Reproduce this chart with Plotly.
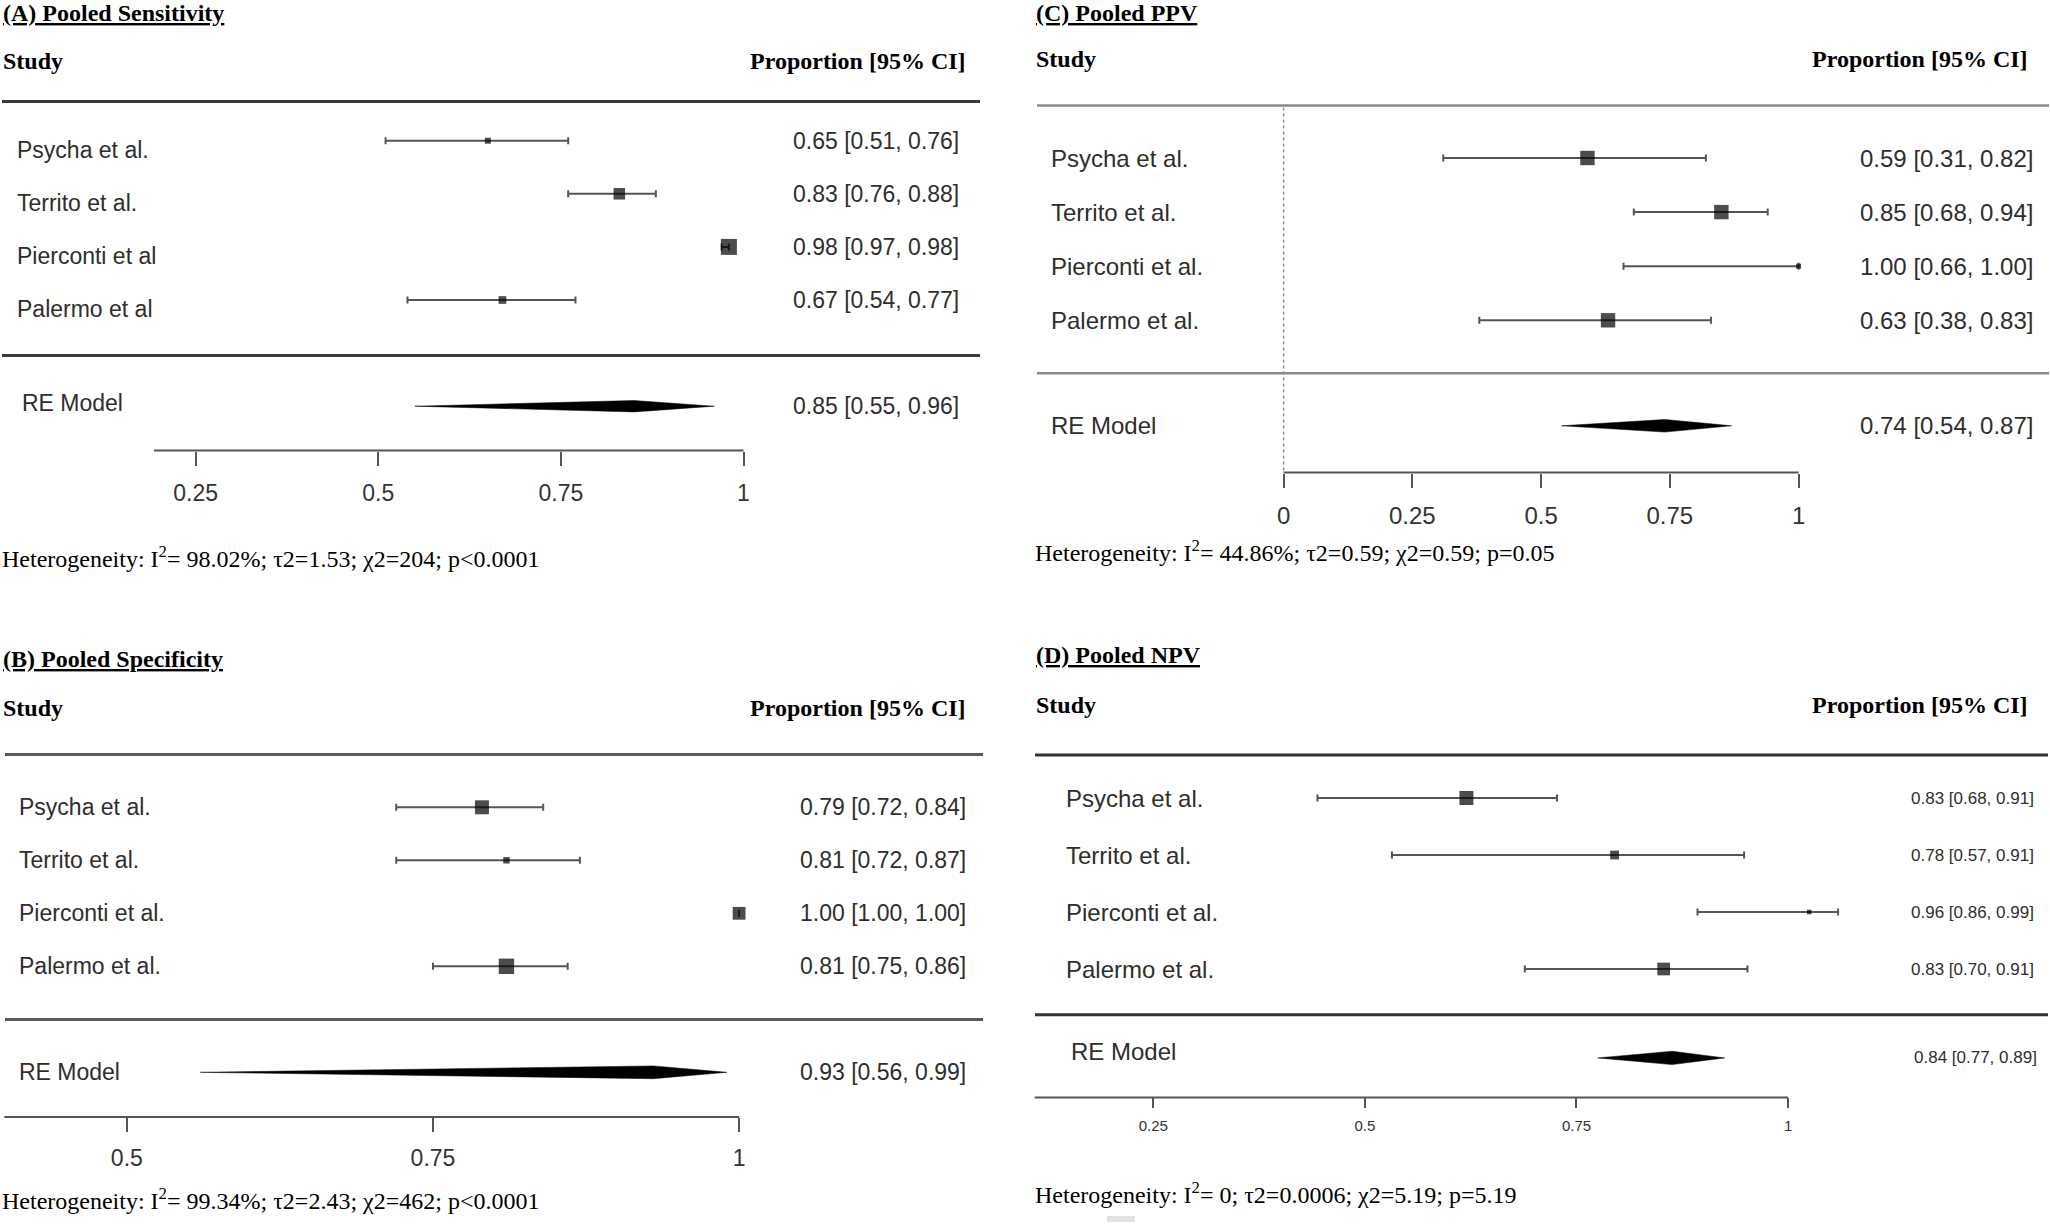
import plotly.graph_objects as go

W, H = 2050, 1226

# ---------------- data ----------------
study_names_A = ["Psycha et al.", "Territo et al.", "Pierconti et al", "Palermo et al"]
study_names = ["Psycha et al.", "Territo et al.", "Pierconti et al.", "Palermo et al."]

# (A) Pooled Sensitivity
sens_est = [0.65, 0.83, 0.98, 0.67]
sens_lo = [0.51, 0.76, 0.97, 0.54]
sens_hi = [0.76, 0.88, 0.98, 0.77]
sens_re = [0.85, 0.55, 0.96]          # estimate, lower, upper
sens_text = ["0.65 [0.51, 0.76]", "0.83 [0.76, 0.88]", "0.98 [0.97, 0.98]", "0.67 [0.54, 0.77]"]
sens_re_text = "0.85 [0.55, 0.96]"
sens_ticks = [0.25, 0.5, 0.75, 1]
sens_ticklabels = ["0.25", "0.5", "0.75", "1"]
sens_het = "Heterogeneity: I<sup>2</sup>= 98.02%; τ2=1.53; χ2=204; p<0.0001"

# (B) Pooled Specificity
spec_est = [0.79, 0.81, 1.00, 0.81]
spec_lo = [0.72, 0.72, 1.00, 0.75]
spec_hi = [0.84, 0.87, 1.00, 0.86]
spec_re = [0.93, 0.56, 0.99]
spec_text = ["0.79 [0.72, 0.84]", "0.81 [0.72, 0.87]", "1.00 [1.00, 1.00]", "0.81 [0.75, 0.86]"]
spec_re_text = "0.93 [0.56, 0.99]"
spec_ticks = [0.5, 0.75, 1]
spec_ticklabels = ["0.5", "0.75", "1"]
spec_het = "Heterogeneity: I<sup>2</sup>= 99.34%; τ2=2.43; χ2=462; p<0.0001"

# (C) Pooled PPV
ppv_est = [0.59, 0.85, 1.00, 0.63]
ppv_lo = [0.31, 0.68, 0.66, 0.38]
ppv_hi = [0.82, 0.94, 1.00, 0.83]
ppv_re = [0.74, 0.54, 0.87]
ppv_text = ["0.59 [0.31, 0.82]", "0.85 [0.68, 0.94]", "1.00 [0.66, 1.00]", "0.63 [0.38, 0.83]"]
ppv_re_text = "0.74 [0.54, 0.87]"
ppv_ticks = [0, 0.25, 0.5, 0.75, 1]
ppv_ticklabels = ["0", "0.25", "0.5", "0.75", "1"]
ppv_het = "Heterogeneity: I<sup>2</sup>= 44.86%; τ2=0.59; χ2=0.59; p=0.05"

# (D) Pooled NPV (plotted positions as drawn in the figure)
npv_est = [0.62, 0.795, 1.025, 0.853]
npv_lo = [0.444, 0.532, 0.893, 0.689]
npv_hi = [0.727, 0.948, 1.059, 0.952]
npv_re = [0.863, 0.775, 0.925]
npv_text = ["0.83 [0.68, 0.91]", "0.78 [0.57, 0.91]", "0.96 [0.86, 0.99]", "0.83 [0.70, 0.91]"]
npv_re_text = "0.84 [0.77, 0.89]"
npv_ticks = [0.25, 0.5, 0.75, 1]
npv_ticklabels = ["0.25", "0.5", "0.75", "1"]
npv_het = "Heterogeneity: I<sup>2</sup>= 0; τ2=0.0006; χ2=5.19; p=5.19"

# ---------------- layout / style per panel (pixel geometry) ----------------
SERIF = "Liberation Serif, Times New Roman, serif"
SANS = "Liberation Sans, Arial, sans-serif"

panels = [
    dict(title="(A) Pooled Sensitivity", names=study_names_A,
         est=sens_est, lo=sens_lo, hi=sens_hi, re=sens_re, text=sens_text, re_text=sens_re_text,
         ticks=sens_ticks, ticklabels=sens_ticklabels, het=sens_het,
         xL=0, xR=1010, x0=13.0, unit=730.5,
         top=0, axis_px=450.5, row1_px=140.7, sp=53.1, re_row=6.0,
         hl_y=[101.5, 355.5], hl_x=[2, 980], hl_color="#3a3a3a", hl_w=3,
         axis_start=0.193, ticklen=14, tickfont=23, standoff=8,
         title_y=13.4, head_y=61, het_y=557, left_x=1.0, head_right=968,
         label_x=15.0, re_label_x=20.0, num_right=960.5, re_num_right=960.5,
         label_font=23, num_font=23, label_shift=-9, re_label_shift=3,
         sizes=[6, 11.5, 16, 7.7], dh=5.7, dotted=False),
    dict(title="(B) Pooled Specificity", names=study_names,
         est=spec_est, lo=spec_lo, hi=spec_hi, re=spec_re, text=spec_text, re_text=spec_re_text,
         ticks=spec_ticks, ticklabels=spec_ticklabels, het=spec_het,
         xL=0, xR=1010, x0=-485.4, unit=1224.5,
         top=620, axis_px=1117, row1_px=807.3, sp=53.0, re_row=6.0,
         hl_y=[754.5, 1019.4], hl_x=[5, 983], hl_color="#5a5a5a", hl_w=3,
         axis_start=0.4, ticklen=14, tickfont=23, standoff=6,
         title_y=658.8, head_y=708.4, het_y=1199, left_x=1.0, head_right=968,
         label_x=17.0, re_label_x=17.0, num_right=968, re_num_right=968,
         label_font=23, num_font=23, label_shift=0, re_label_shift=0,
         sizes=[14, 6.4, 12.8, 15.4], dh=6.4, dotted=False),
    dict(title="(C) Pooled PPV", names=study_names,
         est=ppv_est, lo=ppv_lo, hi=ppv_hi, re=ppv_re, text=ppv_text, re_text=ppv_re_text,
         ticks=ppv_ticks, ticklabels=ppv_ticklabels, het=ppv_het,
         xL=1030, xR=2050, x0=1283.6, unit=515.0,
         top=0, axis_px=472.6, row1_px=158.0, sp=54.1, re_row=5.95,
         hl_y=[105.5, 373.3], hl_x=[1037, 2049], hl_color="#8a8a8a", hl_w=2.5,
         axis_start=0.0, ticklen=14, tickfont=24, standoff=8,
         title_y=13, head_y=59, het_y=551, left_x=1034, head_right=2030,
         label_x=1049.0, re_label_x=1049.0, num_right=2034.5, re_num_right=2034.5,
         label_font=24, num_font=24, label_shift=0, re_label_shift=0,
         sizes=[14.4, 14.4, 5, 14.4], dh=6.3, dotted=True),
    dict(title="(D) Pooled NPV", names=study_names,
         est=npv_est, lo=npv_lo, hi=npv_hi, re=npv_re, text=npv_text, re_text=npv_re_text,
         ticks=npv_ticks, ticklabels=npv_ticklabels, het=npv_het,
         xL=1030, xR=2050, x0=941.6, unit=846.5,
         top=620, axis_px=1097.4, row1_px=798.0, sp=57.0, re_row=5.56,
         hl_y=[755, 1014.8], hl_x=[1035, 2048], hl_color="#333333", hl_w=3,
         axis_start=0.11, ticklen=10, tickfont=15, standoff=5,
         title_y=654.7, head_y=705, het_y=1192.5, left_x=1034, head_right=2030,
         label_x=1064, re_label_x=1068.5, num_right=2035.5, re_num_right=2039,
         label_font=24, num_font=17, label_shift=0, re_label_shift=6,
         sizes=[14, 8.8, 4.6, 12.7], dh=6.7, dotted=False),
]


def px(xp):
    return xp / W


def py(yp):
    return 1 - yp / H


fig = go.Figure()
annotations = []
shapes = []
layout_axes = {}

for k, p in enumerate(panels, start=1):
    xa = "x" if k == 1 else f"x{k}"
    ya = "y" if k == 1 else f"y{k}"
    xkey = "xaxis" if k == 1 else f"xaxis{k}"
    ykey = "yaxis" if k == 1 else f"yaxis{k}"

    rows = [1, 2, 3, 4]
    xr = [(p["xL"] - p["x0"]) / p["unit"], (p["xR"] - p["x0"]) / p["unit"]]
    yr = [1 + (p["axis_px"] - p["row1_px"]) / p["sp"], 1 - (p["row1_px"] - p["top"]) / p["sp"]]
    layout_axes[xkey] = dict(
        domain=[px(p["xL"]), px(p["xR"])], range=xr, anchor=ya,
        showgrid=False, zeroline=False, showline=False,
        tickmode="array", tickvals=p["ticks"], ticktext=p["ticklabels"],
        ticks="outside", ticklen=p["ticklen"], tickwidth=2, tickcolor="#555555",
        tickfont=dict(family=SANS, size=p["tickfont"], color="#333333"),
        ticklabelstandoff=p["standoff"], fixedrange=True,
    )
    layout_axes[ykey] = dict(
        domain=[py(p["axis_px"]), py(p["top"])], range=yr, anchor=xa,
        visible=False, showgrid=False, zeroline=False, fixedrange=True,
    )

    # confidence intervals (drawn first, beneath the squares)
    fig.add_trace(go.Scatter(
        x=p["est"], y=rows, xaxis=xa, yaxis=ya, mode="markers",
        marker=dict(size=1, color="rgba(0,0,0,0)"),
        error_x=dict(type="data", symmetric=False,
                     array=[h - e for h, e in zip(p["hi"], p["est"])],
                     arrayminus=[e - l for e, l in zip(p["est"], p["lo"])],
                     color="#555555", thickness=2, width=3.5),
        showlegend=False, hoverinfo="skip", cliponaxis=False,
    ))
    # study estimates
    fig.add_trace(go.Scatter(
        x=p["est"], y=rows, xaxis=xa, yaxis=ya, mode="markers",
        marker=dict(symbol="square", size=p["sizes"], color="black", line=dict(width=0)),
        showlegend=False, hoverinfo="skip", cliponaxis=False,
    ))

    # RE model diamond
    est, lo, hi = p["re"]
    h = p["dh"] / p["sp"]
    r = p["re_row"]
    fig.add_trace(go.Scatter(
        x=[lo, est, hi, est, lo], y=[r, r - h, r, r + h, r], xaxis=xa, yaxis=ya,
        mode="lines", fill="toself", fillcolor="black",
        line=dict(color="black", width=0.5), showlegend=False, hoverinfo="skip",
    ))

    # horizontal rules
    for yy in p["hl_y"]:
        shapes.append(dict(type="line", xref="paper", yref="paper",
                           x0=px(p["hl_x"][0]), x1=px(p["hl_x"][1]), y0=py(yy), y1=py(yy),
                           line=dict(color=p["hl_color"], width=p["hl_w"])))
    # axis line
    shapes.append(dict(type="line", xref=xa, yref=f"{ya} domain",
                       x0=p["axis_start"], x1=p["ticks"][-1], y0=0, y1=0,
                       line=dict(color="#555555", width=2)))
    if p["dotted"]:
        shapes.append(dict(type="line", xref=xa, yref="paper", x0=0, x1=0,
                           y0=py(p["hl_y"][0] + 2), y1=py(p["axis_px"]),
                           line=dict(color="#8a8a8a", width=1.5, dash="dot")))

    # texts
    annotations.append(dict(text=f"<u><b>{p['title']}</b></u>", x=px(p["left_x"]), y=py(p["title_y"]),
                            xref="paper", yref="paper", xanchor="left", yanchor="middle", showarrow=False,
                            font=dict(family=SERIF, size=24, color="black")))
    annotations.append(dict(text="<b>Study</b>", x=px(p["left_x"]), y=py(p["head_y"]),
                            xref="paper", yref="paper", xanchor="left", yanchor="middle", showarrow=False,
                            font=dict(family=SERIF, size=24, color="black")))
    annotations.append(dict(text="<b>Proportion [95% CI]</b>", x=px(p["head_right"]), y=py(p["head_y"]),
                            xref="paper", yref="paper", xanchor="right", yanchor="middle", showarrow=False,
                            font=dict(family=SERIF, size=24, color="black")))
    annotations.append(dict(text=p["het"], x=px(p["left_x"] - 1), y=py(p["het_y"]),
                            xref="paper", yref="paper", xanchor="left", yanchor="middle", showarrow=False,
                            font=dict(family=SERIF, size=24, color="black")))
    for name, txt, rw in zip(p["names"], p["text"], rows):
        annotations.append(dict(text=name, x=px(p["label_x"]), y=rw, xref="paper", yref=ya,
                                xanchor="left", yanchor="middle", showarrow=False, yshift=p["label_shift"],
                                font=dict(family=SANS, size=p["label_font"], color="#2e2e2e")))
        annotations.append(dict(text=txt, x=px(p["num_right"]), y=rw, xref="paper", yref=ya,
                                xanchor="right", yanchor="middle", showarrow=False,
                                font=dict(family=SANS, size=p["num_font"], color="#2e2e2e")))
    annotations.append(dict(text="RE Model", x=px(p["re_label_x"]), y=r, xref="paper", yref=ya,
                            xanchor="left", yanchor="middle", showarrow=False, yshift=p["re_label_shift"],
                            font=dict(family=SANS, size=p["label_font"], color="#2e2e2e")))
    annotations.append(dict(text=p["re_text"], x=px(p["re_num_right"]), y=r, xref="paper", yref=ya,
                            xanchor="right", yanchor="middle", showarrow=False,
                            font=dict(family=SANS, size=p["num_font"], color="#2e2e2e")))

# faint scan mark below panel D
shapes.append(dict(type="rect", xref="paper", yref="paper", x0=px(1107), x1=px(1135),
                   y0=py(1222), y1=py(1216), line=dict(width=0), fillcolor="#e2e2e2"))

fig.update_layout(
    width=W, height=H, margin=dict(l=0, r=0, t=0, b=0),
    paper_bgcolor="white", plot_bgcolor="rgba(0,0,0,0)",
    showlegend=False, annotations=annotations, shapes=shapes,
    **layout_axes,
)

fig.write_html("out.html", config={"displayModeBar": False, "staticPlot": True},
               post_script="document.body.style.margin='0';document.body.style.overflow='hidden';")
